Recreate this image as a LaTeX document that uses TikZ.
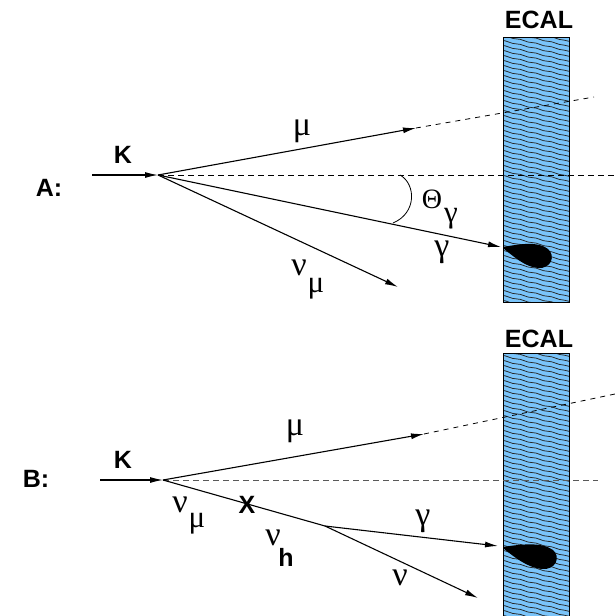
\documentclass[tikz,border=0pt]{standalone}
\usepackage{fontspec}
\setmainfont{Liberation Sans}
\newfontfamily\grk{Liberation Serif}
\usetikzlibrary{arrows.meta,decorations.pathmorphing}
\definecolor{ecalblue}{RGB}{122,196,250}
\tikzset{
  trk/.style={line width=1.1pt,-{Latex[length=13pt,width=6pt]}},
  dsh/.style={line width=0.9pt,dash pattern=on 6pt off 4pt},
  lbl/.style={font=\fontsize{25}{25}\selectfont\bfseries,inner sep=0pt,anchor=base},
  elbl/.style={font=\fontsize{25}{25}\selectfont\bfseries,inner sep=0pt,anchor=base},
  glbl/.style={font=\fontsize{34}{34}\selectfont\grk,inner sep=0pt,anchor=base},
  slbl/.style={font=\fontsize{31}{31}\selectfont\grk,inner sep=0pt,anchor=base},
  caplbl/.style={font=\fontsize{28}{28}\selectfont\grk,inner sep=0pt,anchor=base},
  hatch/.style={line width=0.75pt,draw=black!85,decorate,decoration={snake,amplitude=0.4pt,segment length=16pt}},
}
\begin{document}
\begin{tikzpicture}[x=1pt,y=-1pt]
\useasboundingbox (0,0) rectangle (616,616);
% ---------- ECAL boxes ----------
\node[elbl] (ecalA) at (539,28) {ECAL};
\node[elbl] (ecalB) at (539,347) {ECAL};
\fill[ecalblue] (503,37) rectangle (569,302);
\fill[ecalblue] (503,353) rectangle (569,620);
\begin{scope}
\clip (503,37) rectangle (569,302);
\foreach \y in {15,20,...,305} {\draw[hatch] (500,\y) -- (572,\y+17);}
\end{scope}
\begin{scope}
\clip (503,353) rectangle (569,620);
\foreach \y in {330,335,...,620} {\draw[hatch] (500,\y) -- (572,\y+17);}
\end{scope}
\draw[line width=0.8pt] (503,37) rectangle (569,302);
\draw[line width=0.8pt] (503,620) -- (503,353) -- (569,353) -- (569,620);
% ---------- Panel A ----------
\node[lbl] (labA) at (49,196) {A:};
\node[lbl] (kA) at (123,163) {K};
\coordinate (inA) at (92,175);
\coordinate (vA) at (158,175);
\coordinate (muA) at (416,128);
\coordinate (muAend) at (594,97);
\coordinate (gA) at (501,247);
\coordinate (nuA) at (398,287);
\coordinate (dA) at (614,175);
\draw[dsh] (vA) -- (dA);
\draw[trk] (inA) -- (vA);
\draw[trk] (vA) -- (muA);
\draw[dsh,line width=0.8pt,dash pattern=on 5pt off 5pt] (muA) -- (muAend);
\draw[trk] (vA) -- (gA);
\draw[trk] (vA) -- (nuA);
\coordinate (arc1) at (400,175);
\coordinate (arc2) at (393,223);
\draw[line width=0.8pt] (arc1) .. controls (416,184) and (417,213) .. (arc2);
\node[glbl] (muAl) at (302,135) {μ};
\node[caplbl] (thA) at (432,208) {Θ};
\node[slbl] (thAs) at (451,222) {γ};
\node[glbl] (gAl) at (442,256) {γ};
\node[glbl] (nuAl) at (299,275) {ν};
\node[slbl] (nuAs) at (316,292) {μ};
\fill (503,247) .. controls (520,244) and (538,241) .. (548,249) .. controls (556,256) and (551,269) .. (538,268) .. controls (525,267) and (513,256) .. (503,248) -- cycle;
% ---------- Panel B ----------
\node[lbl] (labB) at (36,487) {B:};
\node[lbl] (kB) at (123,468) {K};
\coordinate (inB) at (100,480);
\coordinate (vB) at (163,480);
\coordinate (muB) at (424,434);
\coordinate (muBend) at (615,394);
\coordinate (dB) at (598,480);
\coordinate (br) at (325,526);
\coordinate (gB) at (498,546);
\coordinate (nuB) at (478,598);
\draw[dsh,draw=black!65] (vB) -- (dB);
\draw[trk] (inB) -- (vB);
\draw[trk] (vB) -- (muB);
\draw[dsh,line width=0.8pt,dash pattern=on 5pt off 5pt] (muB) -- (muBend);
\draw[line width=1.1pt] (vB) -- (br);
\draw[trk] (br) -- (gB);
\draw[trk] (br) -- (nuB);
\node[lbl] (xB) at (247,513) {X};
\node[glbl] (muBl) at (295,435) {μ};
\node[glbl] (nuBl) at (180,512) {ν};
\node[slbl] (nuBs) at (197,527) {μ};
\node[glbl] (nhl) at (273,545) {ν};
\node[lbl] (nhs) at (286,566) {h};
\node[glbl] (gBl) at (423,525) {γ};
\node[glbl] (nBl) at (400,585) {ν};
\fill (503,547) .. controls (522,544) and (542,542) .. (553,550) .. controls (561,557) and (556,570) .. (542,569) .. controls (528,568) and (514,557) .. (503,548) -- cycle;
\end{tikzpicture}
\end{document}
